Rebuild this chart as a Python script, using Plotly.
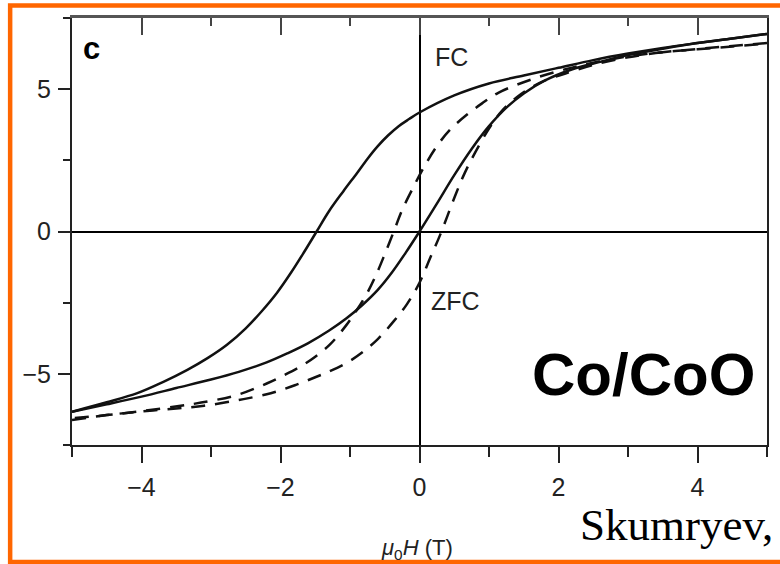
import plotly.graph_objects as go

# ---- data ----
fc_desc_h = [5, 4.5, 4, 3.5, 3, 2.5, 2, 1.5, 1, 0.5, 0, -0.15, -0.3, -0.45, -0.6, -0.75, -0.9, -1.1, -1.3, -1.48, -1.66, -1.85, -2.05, -2.27, -2.5, -2.77, -3.05, -3.34, -3.7, -4.06, -4.5, -5]
fc_desc_m = [6.94, 6.78, 6.62, 6.45, 6.25, 6.02, 5.75, 5.48, 5.2, 4.78, 4.18, 3.95, 3.7, 3.38, 3.0, 2.55, 2.05, 1.4, 0.72, 0.0, -0.72, -1.45, -2.15, -2.8, -3.4, -3.98, -4.45, -4.86, -5.3, -5.68, -6.0, -6.33]

fc_asc_h = [-5, -4.5, -4, -3.5, -3, -2.6, -2.2, -1.9, -1.6, -1.3, -1.05, -0.83, -0.6, -0.4, -0.2, 0, 0.25, 0.5, 0.75, 1.0, 1.25, 1.5, 1.8, 2.2, 2.6, 3.0, 3.5, 4.0, 4.5, 5]
fc_asc_m = [-6.33, -6.07, -5.8, -5.5, -5.2, -4.93, -4.6, -4.28, -3.92, -3.48, -3.05, -2.6, -2.05, -1.45, -0.75, 0, 0.98, 1.98, 2.9, 3.7, 4.35, 4.85, 5.3, 5.7, 5.96, 6.2, 6.42, 6.62, 6.78, 6.94]

zfc_desc_h = [5, 4.5, 4, 3.5, 3, 2.5, 2.1, 1.62, 1.14, 0.9, 0.68, 0.45, 0.25, 0.05, -0.1, -0.25, -0.37, -0.5, -0.62, -0.75, -0.9, -1.05, -1.28, -1.5, -1.71, -1.95, -2.19, -2.62, -3.0, -3.34, -4.06, -4.5, -5]
zfc_desc_m = [6.62, 6.52, 6.41, 6.3, 6.15, 5.93, 5.7, 5.35, 4.88, 4.5, 4.1, 3.6, 3.0, 2.2, 1.5, 0.75, 0.0, -0.8, -1.5, -2.15, -2.75, -3.28, -3.95, -4.4, -4.74, -5.05, -5.33, -5.74, -5.95, -6.09, -6.33, -6.45, -6.56]

zfc_asc_h = [-5, -4.5, -4, -3.5, -3.1, -2.6, -2.14, -1.77, -1.5, -1.31, -1.05, -0.81, -0.6, -0.37, -0.18, 0, 0.15, 0.3, 0.51, 0.65, 0.8, 1.0, 1.18, 1.4, 1.6, 1.85, 2.1, 2.5, 3.0, 3.5, 4.0, 4.5, 5]
zfc_asc_m = [-6.62, -6.45, -6.32, -6.22, -6.12, -5.92, -5.68, -5.38, -5.12, -4.93, -4.62, -4.22, -3.78, -3.15, -2.55, -1.8, -0.95, -0.1, 1.24, 2.05, 2.77, 3.62, 4.22, 4.72, 5.05, 5.35, 5.55, 5.85, 6.12, 6.3, 6.4, 6.5, 6.6]

x_tick_vals = [-4, -2, 0, 2, 4]
x_tick_text = ["\u22124", "\u22122", "0", "2", "4"]
y_tick_vals = [-5, 0, 5]
y_tick_text = ["\u22125", "0", "5"]

SANS = "Liberation Sans, Arial, sans-serif"
TICKFONT = dict(family=SANS, size=25, color="#222")

fig = go.Figure()
solid = dict(color="#111", width=2.5, shape="spline", smoothing=1.0)
dashed = dict(color="#111", width=2.5, dash="14px,10px", shape="spline", smoothing=1.0)

fig.add_trace(go.Scatter(x=fc_desc_h, y=fc_desc_m, mode="lines", line=solid, showlegend=False))
fig.add_trace(go.Scatter(x=fc_asc_h, y=fc_asc_m, mode="lines", line=solid, showlegend=False))
fig.add_trace(go.Scatter(x=zfc_desc_h, y=zfc_desc_m, mode="lines", line=dashed, showlegend=False, xaxis="x2"))
fig.add_trace(go.Scatter(x=zfc_asc_h, y=zfc_asc_m, mode="lines", line=dashed, showlegend=False, xaxis="x2"))

fig.update_layout(
    width=780, height=564,
    margin=dict(l=72, r=11, t=18, b=119),
    paper_bgcolor="white", plot_bgcolor="white",
    xaxis=dict(
        range=[-5, 5], showgrid=False,
        tickmode="array", tickvals=x_tick_vals, ticktext=x_tick_text,
        ticks="outside", ticklen=16, tickwidth=2, tickcolor="#222",
        minor=dict(dtick=1, tick0=-5, ticks="outside", ticklen=10, tickwidth=2, tickcolor="#222", showgrid=False),
        showline=True, linecolor="#222", linewidth=2,
        zeroline=True, zerolinecolor="black", zerolinewidth=2,
        tickfont=TICKFONT, ticklabelstandoff=3,
    ),
    xaxis2=dict(
        range=[-5, 5], overlaying="x", side="top", showgrid=False,
        tickmode="array", tickvals=x_tick_vals, showticklabels=False,
        ticks="inside", ticklen=17, tickwidth=2, tickcolor="#444",
        minor=dict(dtick=1, tick0=-5, ticks="inside", ticklen=8, tickwidth=2, tickcolor="#444", showgrid=False),
        showline=True, linecolor="#555", linewidth=3, zeroline=False,
    ),
    yaxis=dict(
        range=[-7.5, 7.5], showgrid=False,
        tickmode="array", tickvals=y_tick_vals, ticktext=y_tick_text,
        ticks="outside", ticklen=12, tickwidth=2, tickcolor="#222",
        minor=dict(dtick=2.5, tick0=0, ticks="outside", ticklen=7, tickwidth=2, tickcolor="#222", showgrid=False),
        showline=True, mirror=True, linecolor="#222", linewidth=2,
        zeroline=True, zerolinecolor="black", zerolinewidth=2,
        tickfont=TICKFONT, ticklabelstandoff=2,
    ),
    shapes=[dict(type="rect", xref="paper", yref="paper",
                 x0=-0.089, x1=1.05, y0=-0.274, y1=1.029,
                 line=dict(color="#FF6600", width=4.5), fillcolor="rgba(0,0,0,0)", layer="above")],
    annotations=[
        dict(text="<b>c</b>", x=0.0287, y=0.9297, xref="paper", yref="paper", showarrow=False,
             xanchor="center", yanchor="middle", font=dict(family=SANS, size=31, color="black")),
        dict(text="FC", x=0.5466, y=0.9087, xref="paper", yref="paper", showarrow=False,
             xanchor="center", yanchor="middle", font=dict(family=SANS, size=25, color="#222")),
        dict(text="ZFC", x=0.5524, y=0.3372, xref="paper", yref="paper", showarrow=False,
             xanchor="center", yanchor="middle", font=dict(family=SANS, size=25, color="#222")),
        dict(text="<b>Co/CoO</b>", x=0.8221, y=0.1651, xref="paper", yref="paper", showarrow=False,
             xanchor="center", yanchor="middle", font=dict(family=SANS, size=60, color="black")),
        dict(text="<i>\u03bc</i><sub>0</sub><i>H</i> (T)", x=0.4964, y=-0.2436, xref="paper", yref="paper", showarrow=False,
             xanchor="center", yanchor="middle", font=dict(family=SANS, size=22, color="#222")),
        dict(text="Skumryev,", x=0.7274, y=-0.1874, xref="paper", yref="paper", showarrow=False,
             xanchor="left", yanchor="middle", font=dict(family="Liberation Serif, Times New Roman, serif", size=45, color="black")),
    ],
)

fig.write_html("out.html")
